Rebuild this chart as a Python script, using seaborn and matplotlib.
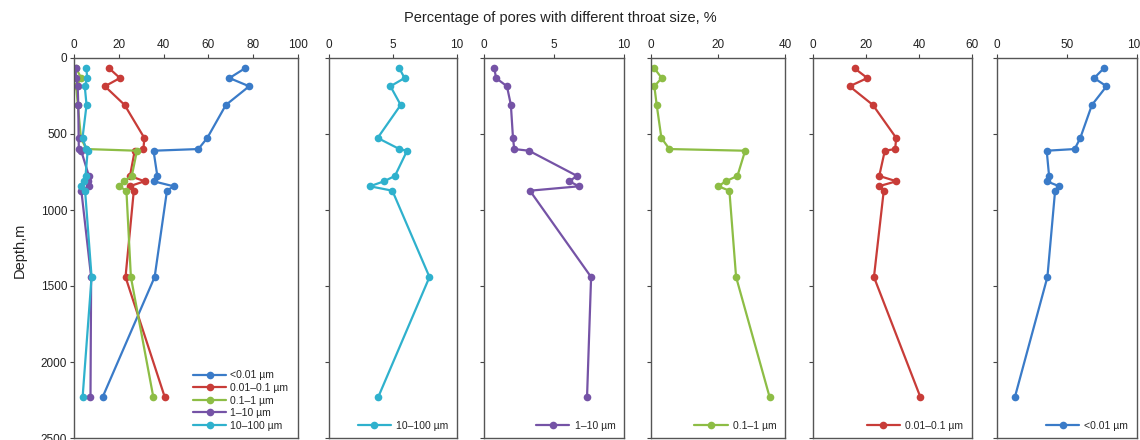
import matplotlib
matplotlib.use("Agg")
import matplotlib.pyplot as plt
import seaborn as sns
import pandas as pd

sns.set_style("white")
plt.rcParams["font.family"] = ["Liberation Sans", "DejaVu Sans"]

# Sample depths (m)
depth = [68, 132, 186, 309, 526, 599, 610, 776, 811, 844, 873, 1441, 2230]

# Share of pores (%) for each throat-size class
lt_001 = [76.3, 69.4, 78.2, 67.8, 59.5, 55.5, 35.5, 37.2, 35.5, 44.5, 41.5, 36.0, 12.8]
r001_01 = [15.7, 20.5, 13.8, 22.6, 31.4, 31.0, 27.1, 25.0, 31.5, 24.8, 26.7, 23.0, 40.5]
r01_1 = [1.0, 3.2, 1.0, 1.7, 3.1, 5.5, 28.1, 25.8, 22.3, 20.1, 23.4, 25.4, 35.4]
r1_10 = [0.74, 0.86, 1.64, 1.92, 2.07, 2.16, 3.21, 6.65, 6.08, 6.79, 3.28, 7.65, 7.36]
r10_100 = [5.5, 5.9, 4.8, 5.6, 3.8, 5.5, 6.1, 5.15, 4.3, 3.2, 4.95, 7.85, 3.85]

labels = ["<0.01 µm", "0.01–0.1 µm", "0.1–1 µm", "1–10 µm", "10–100 µm"]
series = [lt_001, r001_01, r01_1, r1_10, r10_100]
colors = ["#3a7bc8", "#c83c38", "#8dbd45", "#7553a6", "#2fb1cd"]

# Individual panels: (series index, x-limit, tick step)
panels = [(4, 10, 5), (3, 10, 5), (2, 40, 20), (1, 60, 20), (0, 100, 50)]

W, H = 1140, 440
fig = plt.figure(figsize=(W / 100, H / 100), dpi=100)

def add_ax(x0, x1, y0=58, y1=438):
    return fig.add_axes([x0 / W, 1 - y1 / H, (x1 - x0) / W, (y1 - y0) / H])

boxes = [(74, 298), (329, 457), (484, 624), (651, 785), (813, 972), (997, 1137)]
axes = [add_ax(*b) for b in boxes]

line_kw = dict(sort=False, estimator=None, marker="o", markersize=5.5,
               markeredgewidth=0, linewidth=1.6)

def style_axis(ax, xmax, step, show_ylabels):
    ax.set_xlim(0, xmax)
    ax.set_ylim(2500, 0)
    ax.set_xticks(range(0, xmax + 1, step))
    ax.set_yticks(range(0, 2501, 500))
    ax.xaxis.tick_top()
    ax.tick_params(axis="x", direction="out", length=3, width=0.8, colors="#444444",
                   labelcolor="#222222", labelsize=8.5, pad=2, top=True, bottom=False)
    ax.tick_params(axis="y", direction="out", length=3, width=0.8, colors="#444444",
                   labelcolor="#222222", labelsize=8.5, pad=2, left=True,
                   labelleft=show_ylabels)
    for s in ax.spines.values():
        s.set_color("#555555")
        s.set_linewidth(1.0)
    ax.set_xlabel("")
    ax.set_ylabel("")

# Combined panel with all five classes
ax0 = axes[0]
df = pd.DataFrame({
    "depth": depth * len(series),
    "value": sum(series, []),
    "class": sum([[lab] * len(depth) for lab in labels], []),
})
for lab, col in zip(labels, colors):
    sub = df[df["class"] == lab]
    sns.lineplot(data=sub, x="value", y="depth", color=col, label=lab, ax=ax0, **line_kw)
style_axis(ax0, 100, 20, True)
ax0.legend(loc="lower right", frameon=False, fontsize=7.5, handlelength=3.2,
           handletextpad=0.4, labelspacing=0.25, borderaxespad=0.3,
           bbox_to_anchor=(0.99, 0.0))

# One panel per class
for ax, (idx, xmax, step) in zip(axes[1:], panels):
    sns.lineplot(x=series[idx], y=depth, color=colors[idx], label=labels[idx], ax=ax, **line_kw)
    style_axis(ax, xmax, step, False)
    ax.legend(loc="lower right", frameon=False, fontsize=7.5, handlelength=3.2,
              handletextpad=0.5, borderaxespad=0.3, bbox_to_anchor=(0.99, 0.0))

fig.text(560 / W, 1 - 18 / H, "Percentage of pores with different throat size, %",
         ha="center", va="center", fontsize=10.5, color="#222222")
fig.text(20 / W, 1 - 250 / H, "Depth,m", ha="center", va="center", rotation=90,
         fontsize=10.5, color="#222222")

fig.savefig("out.png", dpi=100)
